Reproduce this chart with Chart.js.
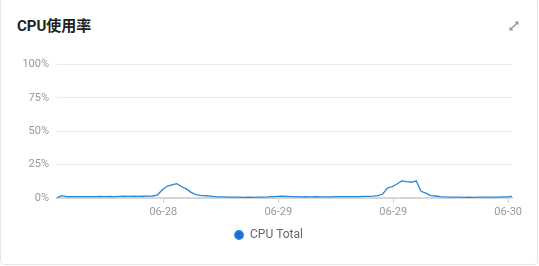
<!DOCTYPE html>
<html>
<head>
<meta charset="utf-8">
<script src="https://cdn.jsdelivr.net/npm/chart.js@4"></script>
<style>
    html, body { margin: 0; padding: 0; background: #fff; }
    body { width: 539px; height: 266px; overflow: hidden; position: relative; font-family: Roboto, "Noto Sans CJK SC", sans-serif; }
    .card { position: absolute; left: 0; top: -2px; width: 538px; height: 267px; border: 1px solid #e6e6e6; border-radius: 4px; box-sizing: border-box; }
    .title { position: absolute; left: 17px; top: 14px; font-size: 15px; font-weight: bold; color: #222; font-family: Roboto, "Noto Sans CJK SC", sans-serif; }
    .expand { position: absolute; left: 507px; top: 19px; }
    .chart-box { position: absolute; left: 0; top: 50px; width: 537px; height: 201px; }
</style>
</head>
<body>
<div class="card"></div>
<div class="title">CPU使用率</div>
<svg class="expand" width="14" height="14" viewBox="0 0 14 14">
    <path d="M3 11 L11 3" stroke="#9a9a9a" stroke-width="1.4" fill="none"/>
    <path d="M7.5 2.5 L11.5 2.5 L11.5 6.5 Z" fill="#9a9a9a"/>
    <path d="M2.5 7.5 L2.5 11.5 L6.5 11.5 Z" fill="#9a9a9a"/>
</svg>
<div class="chart-box"><canvas id="cpu-chart"></canvas></div>
<script>
// samples every 30 minutes, hours since first sample
const sampleHours = [
    0, 0.5, 1, 1.5, 2, 2.5, 3, 3.5, 4, 4.5, 5, 5.5, 6, 6.5, 7, 7.5,
    8, 8.5, 9, 9.5, 10, 10.5, 11, 11.5, 12, 12.5, 13, 13.5, 14, 14.5, 15, 15.5,
    16, 16.5, 17, 17.5, 18, 18.5, 19, 19.5, 20, 20.5, 21, 21.5, 22, 22.5, 23, 23.5,
    24, 24.5, 25, 25.5, 26, 26.5, 27, 27.5, 28, 28.5, 29, 29.5, 30, 30.5, 31, 31.5,
    32, 32.5, 33, 33.5, 34, 34.5, 35, 35.5, 36, 36.5, 37, 37.5, 38, 38.5, 39, 39.5,
    40, 40.5, 41, 41.5, 42, 42.5, 43, 43.5, 44, 44.5, 45, 45.5, 46, 46.5, 47, 47.5
];
const cpuTotal = [
    0.2, 1.8, 1.1, 1.0, 1.1, 1.0, 1.1, 1.0, 1.1, 1.2, 1.1, 1.2, 1.1, 1.2, 1.3, 1.2,
    1.3, 1.2, 1.3, 1.4, 1.5, 2.4, 6.2, 8.8, 9.8, 10.7, 8.6, 6.8, 4.2, 2.5, 1.9, 1.7,
    1.4, 1.1, 0.9, 0.8, 0.7, 0.6, 0.6, 0.5, 0.6, 0.5, 0.6, 0.7, 0.8, 1.0, 1.2, 1.3,
    1.2, 1.1, 1.0, 0.9, 1.0, 0.9, 1.0, 0.9, 0.8, 0.9, 1.0, 1.1, 1.0, 1.1, 1.0, 1.1,
    1.2, 1.2, 1.4, 1.7, 3.0, 7.5, 8.6, 10.5, 12.8, 12.2, 11.8, 12.9, 5.0, 3.6, 1.8, 1.5,
    1.0, 0.8, 0.7, 0.6, 0.6, 0.5, 0.6, 0.5, 0.6, 0.6, 0.7, 0.6, 0.7, 0.8, 0.9, 1.2
];
const xTickHours = [11.1, 23.1, 35.1, 47.1];
const xTickLabels = ['06-28', '06-29', '06-29', '06-30'];
const yTickValues = [0, 25, 50, 75, 100];

const points = sampleHours.map((h, i) => ({ x: h, y: cpuTotal[i] }));
const greyText = '#999999';

new Chart(document.getElementById('cpu-chart'), {
    type: 'line',
    data: {
        datasets: [{
            label: 'CPU Total',
            data: points,
            borderColor: '#2a86d8',
            backgroundColor: '#1a6fcf',
            borderWidth: 1.3,
            pointRadius: 0,
            pointStyle: 'circle',
            tension: 0,
            fill: false
        }]
    },
    options: {
        responsive: true,
        maintainAspectRatio: false,
        animation: false,
        layout: { padding: { top: 13, right: 0, left: 0, bottom: 0 } },
        scales: {
            x: {
                type: 'linear',
                min: sampleHours[0],
                max: sampleHours[sampleHours.length - 1],
                afterBuildTicks: scale => { scale.ticks = xTickHours.map(v => ({ value: v })); },
                afterFit: scale => { scale.height = 20; },
                ticks: {
                    autoSkip: false,
                    maxRotation: 0,
                    color: greyText,
                    font: { family: 'Roboto', size: 11 },
                    padding: 3,
                    callback: (value, index) => xTickLabels[index]
                },
                grid: { drawOnChartArea: false, drawTicks: true, tickLength: 5, color: '#cfcfcf' },
                border: { color: '#d6d6d6', width: 2 }
            },
            y: {
                min: 0,
                max: 100,
                afterBuildTicks: scale => { scale.ticks = yTickValues.map(v => ({ value: v })); },
                afterFit: scale => { scale.width = 57; },
                ticks: {
                    color: greyText,
                    font: { family: 'Roboto', size: 11 },
                    padding: 8,
                    callback: value => value + '%'
                },
                grid: { color: '#ebebeb', lineWidth: 1, drawTicks: false },
                border: { display: false }
            },
            // empty right gutter so the legend stays centred on the whole card
            gutter: {
                type: 'linear',
                position: 'right',
                afterFit: scale => { scale.width = 25; },
                ticks: { display: false },
                grid: { display: false },
                border: { display: false }
            }
        },
        plugins: {
            legend: {
                position: 'bottom',
                labels: {
                    usePointStyle: true,
                    boxWidth: 10,
                    boxHeight: 6,
                    color: '#666',
                    font: { family: 'Roboto', size: 12 },
                    padding: 11
                }
            },
            tooltip: { enabled: false }
        }
    }
});
</script>
</body>
</html>
